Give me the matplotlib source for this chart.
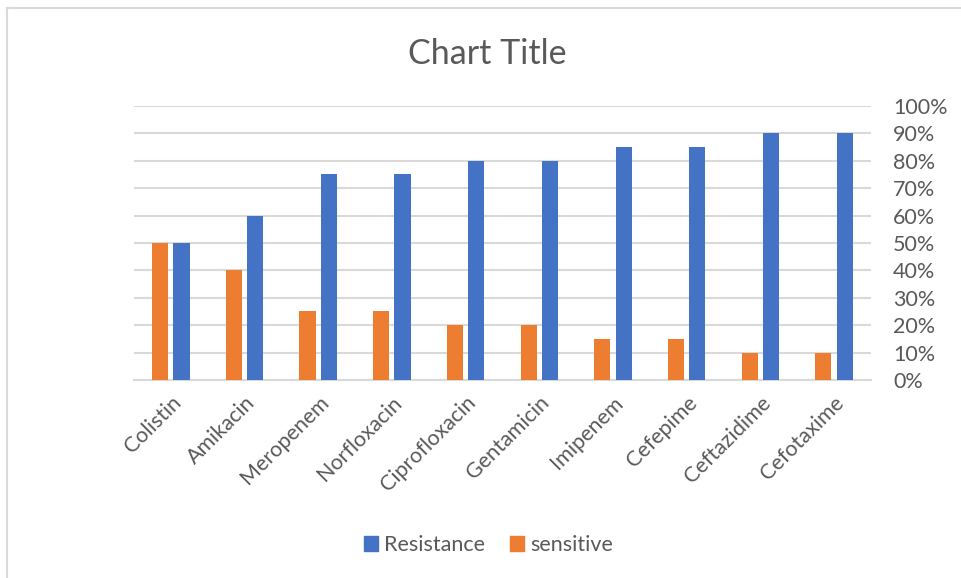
import matplotlib
matplotlib.use("Agg")
import matplotlib.pyplot as plt
from matplotlib.lines import Line2D
from matplotlib.patches import Patch
import numpy as np

plt.rcParams['font.family'] = ['Lato', 'DejaVu Sans']

categories = ["Colistin", "Amikacin", "Meropenem", "Norfloxacin", "Ciprofloxacin",
              "Gentamicin", "Imipenem", "Cefepime", "Ceftazidime", "Cefotaxime"]
resistance = [50, 60, 75, 75, 80, 80, 85, 85, 90, 90]
sensitive = [50, 40, 25, 25, 20, 20, 15, 15, 10, 10]
yticks = [0, 10, 20, 30, 40, 50, 60, 70, 80, 90, 100]

BLUE = "#4472C4"
ORANGE = "#ED7D31"
GRID = "#D9D9D9"
TEXT = "#595959"

fig = plt.figure(figsize=(9.62, 5.78), dpi=100)
ax = fig.add_axes([0.1393, 0.3426, 0.766, 0.474])

x = np.arange(len(categories))
w = 0.22
off = 0.145
ax.bar(x - off, sensitive, width=w, color=ORANGE, zorder=3)
ax.bar(x + off, resistance, width=w, color=BLUE, zorder=3)

ax.set_xlim(-0.5, len(categories) - 0.5)
ax.set_ylim(0, 100)
ax.yaxis.tick_right()
ax.set_yticks(yticks)
ax.set_yticklabels([f"{v}%" for v in yticks], fontsize=15.5, color=TEXT)
ax.tick_params(axis='y', length=0, pad=16)
ax.set_xticks(x)
ax.set_xticklabels(categories, rotation=45, ha='right', rotation_mode='anchor',
                   fontsize=15.5, color=TEXT)
ax.tick_params(axis='x', length=0, pad=9)
ax.grid(axis='y', color=GRID, linewidth=1.5, zorder=0)
for s in ['top', 'right', 'left']:
    ax.spines[s].set_visible(False)
ax.spines['bottom'].set_color(GRID)
ax.spines['bottom'].set_linewidth(1.5)

fig.text(0.506, 0.907, "Chart Title", ha='center', va='center', fontsize=24.5, color=TEXT)

handles = [Patch(color=BLUE, label="Resistance"), Patch(color=ORANGE, label="sensitive")]
fig.legend(handles=handles, loc='center', bbox_to_anchor=(0.508, 0.057), ncol=2,
           frameon=False, fontsize=15.5, labelcolor=TEXT, handlelength=0.65,
           handleheight=0.65, handletextpad=0.3, columnspacing=1.15)

# chart border
fig.add_artist(Line2D([6.5 / 962, 1.0], [1 - 7.5 / 578] * 2, color=GRID, linewidth=1.5,
                      transform=fig.transFigure))
fig.add_artist(Line2D([6.5 / 962] * 2, [0.0, 1 - 7.5 / 578], color=GRID, linewidth=1.5,
                      transform=fig.transFigure))

fig.savefig("out.png", dpi=100)
